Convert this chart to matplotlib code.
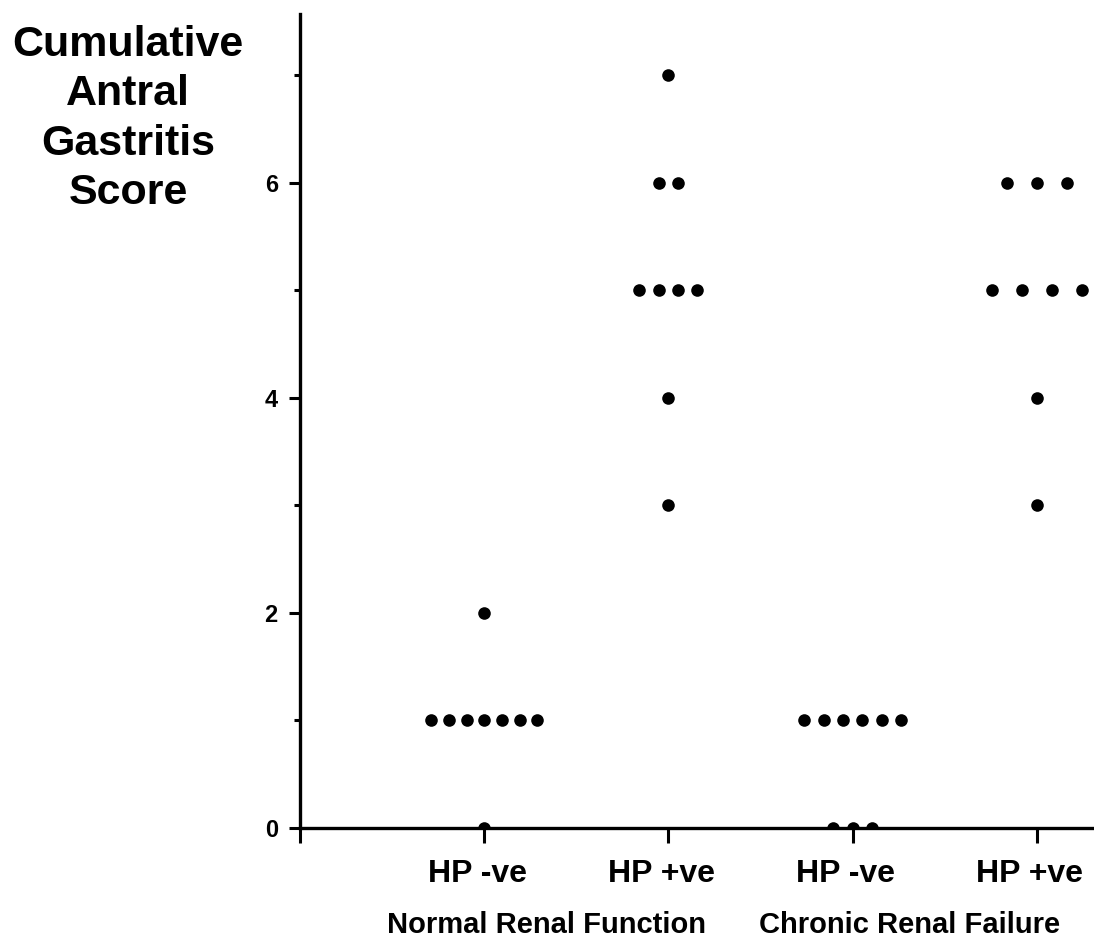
import numpy as np
import matplotlib
matplotlib.use("Agg")
import matplotlib.pyplot as plt
import matplotlib.transforms as mtransforms
from matplotlib.ticker import MultipleLocator

plt.rcParams['font.family'] = ['Liberation Sans', 'DejaVu Sans']
plt.rcParams['font.weight'] = 'bold'

# Cumulative antral gastritis score per patient, by group
groups = ["HP -ve", "HP +ve", "HP -ve", "HP +ve"]
conditions = ["Normal Renal Function", "Chronic Renal Failure"]
nrf_hp_neg = [0, 1, 1, 1, 1, 1, 1, 1, 2]
nrf_hp_pos = [3, 4, 5, 5, 5, 5, 6, 6, 7]
crf_hp_neg = [0, 0, 0, 1, 1, 1, 1, 1, 1]
crf_hp_pos = [3, 4, 5, 5, 5, 5, 6, 6, 6]
y_ticks = [0, 2, 4, 6]

scores = [nrf_hp_neg, nrf_hp_pos, crf_hp_neg, crf_hp_pos]
# horizontal spacing between tied points in each column (axis units)
spacing = [0.096, 0.105, 0.105, 0.163]

fig = plt.figure(figsize=(10.94, 9.48), dpi=100)
ax = fig.add_axes([0.2742, 0.1266, 0.7258, 0.8586])

positions = np.arange(1, len(groups) + 1)
for pos, vals, gap in zip(positions, scores, spacing):
    vals = np.asarray(vals)
    for v in np.unique(vals):
        n = int(np.sum(vals == v))
        xs = pos + (np.arange(n) - (n - 1) / 2) * gap
        ax.scatter(xs, np.full(n, v), s=82, color='black', linewidths=0,
                   zorder=1, clip_on=True)

ax.set_xlim(0.0, 4.31)
ax.set_ylim(0, 7.57)

for side in ('top', 'right'):
    ax.spines[side].set_visible(False)
for side in ('left', 'bottom'):
    ax.spines[side].set_linewidth(2.4)
    ax.spines[side].set_zorder(3)

ax.set_yticks(y_ticks)
ax.set_yticklabels([str(t) for t in y_ticks], fontsize=17, fontweight='bold')
ax.yaxis.set_minor_locator(MultipleLocator(1))
ax.tick_params(axis='y', which='major', direction='out', length=8, width=2.2, pad=8)
ax.tick_params(axis='y', which='minor', direction='out', length=4, width=2.2)

ax.set_xticks(np.concatenate([[0.0], positions]))
ax.set_xticklabels([""] + groups, fontsize=23, fontweight='bold')
ax.tick_params(axis='x', which='major', direction='out', length=11, width=2.2, pad=11)
# nudge the category labels slightly to the left
shift = mtransforms.ScaledTranslation(-7 / 100, 0, fig.dpi_scale_trans)
for lbl in ax.get_xticklabels():
    lbl.set_transform(lbl.get_transform() + shift)

ax.text(1.34, -0.9, conditions[0], ha='center', va='center', fontsize=21,
        fontweight='bold', clip_on=False)
ax.text(3.31, -0.9, conditions[1], ha='center', va='center', fontsize=21,
        fontweight='bold', clip_on=False)

fig.text(0.117, 0.974, "Cumulative\nAntral\nGastritis\nScore", ha='center', va='top',
         fontsize=31, fontweight='bold', linespacing=1.31)

fig.savefig("out.png", dpi=100, facecolor='white')
